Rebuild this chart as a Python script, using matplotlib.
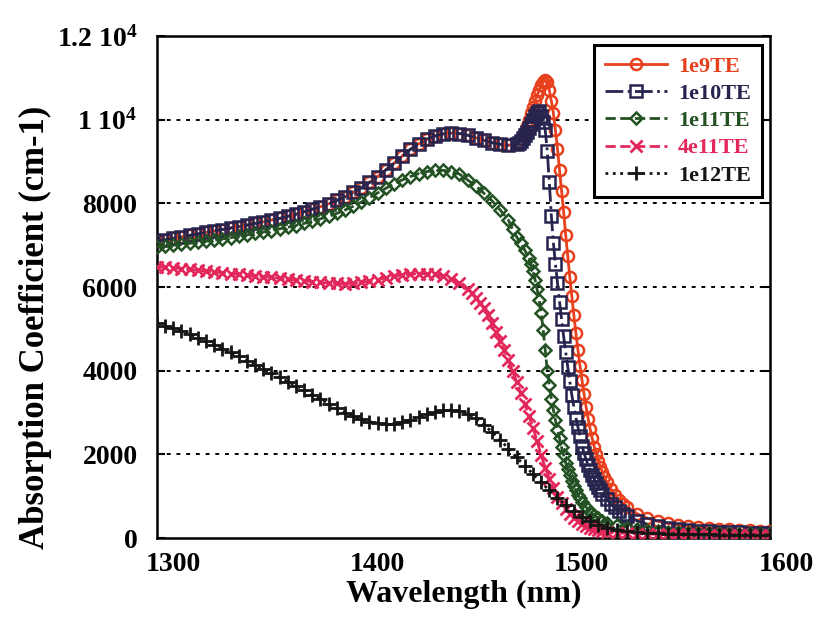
import matplotlib
matplotlib.use("Agg")
import matplotlib.pyplot as plt
import matplotlib.transforms as mtransforms
from matplotlib.ticker import FixedLocator, FixedFormatter

plt.rcParams['font.family'] = ['Liberation Serif', 'DejaVu Serif']
plt.rcParams['font.weight'] = 'bold'
plt.rcParams['mathtext.fontset'] = 'custom'
plt.rcParams['mathtext.rm'] = 'Liberation Serif:bold'
plt.rcParams['mathtext.it'] = 'Liberation Serif:bold:italic'
plt.rcParams['mathtext.bf'] = 'Liberation Serif:bold'

# ---------------- data ----------------
flat_x = [1300, 1304, 1308, 1312, 1316, 1320, 1324, 1328, 1332, 1336, 1340, 1344,
          1348, 1352, 1356, 1360, 1364, 1368, 1372, 1376, 1380, 1384, 1388, 1392,
          1396, 1400, 1404, 1408, 1412, 1416, 1420, 1424, 1428, 1432, 1436, 1440,
          1444, 1448, 1452, 1456, 1460, 1464, 1468, 1472, 1476]

common_top = [7100, 7130, 7165, 7200, 7235, 7270, 7305, 7340, 7375, 7410, 7445, 7480,
              7520, 7560, 7600, 7640, 7690, 7740, 7800, 7860, 7920, 7990, 8070, 8160,
              8260, 8370, 8500, 8640, 8800, 8960, 9130, 9290, 9420, 9530, 9610, 9660,
              9680, 9670, 9630, 9570, 9510, 9450, 9410, 9390, 9420]

# 1e9TE
x_1e9 = flat_x + [1477, 1478, 1479, 1480, 1481, 1482, 1483, 1484, 1485, 1486, 1487, 1488,
                  1489, 1490, 1491, 1492, 1493, 1494, 1495, 1496, 1497, 1498, 1499, 1500,
                  1501, 1502, 1503, 1504, 1505, 1506, 1507, 1508, 1509, 1510, 1511, 1512,
                  1513, 1514, 1515, 1516, 1517, 1518, 1519, 1520, 1522, 1524, 1526, 1528,
                  1530, 1535, 1540, 1545, 1550, 1555, 1560, 1565, 1570, 1575, 1580, 1585,
                  1590, 1595, 1600]
y_1e9 = common_top + [9470, 9540, 9630, 9740, 9860, 10000, 10150, 10300, 10450, 10580, 10700, 10820,
                      10910, 10950, 10900, 10700, 10450, 10150, 9750, 9300, 8800, 8300, 7800, 7250,
                      6750, 6250, 5780, 5330, 4900, 4500, 4120, 3770, 3440, 3130, 2850, 2600,
                      2380, 2180, 2000, 1840, 1700, 1570, 1450, 1350, 1180, 1040, 920, 820,
                      740, 580, 470, 400, 350, 310, 280, 255, 235, 220, 205, 195,
                      185, 175, 170]

# 1e10TE
x_1e10 = flat_x + [1477, 1478, 1479, 1480, 1481, 1482, 1483, 1484, 1485, 1486, 1487, 1488,
                   1489, 1490, 1491, 1492, 1493, 1494, 1495, 1496, 1497, 1498, 1499, 1500,
                   1501, 1502, 1503, 1504, 1505, 1506, 1507, 1508, 1509, 1510, 1511, 1512,
                   1513, 1514, 1515, 1516, 1517, 1518, 1520, 1522, 1524, 1526, 1528, 1530,
                   1535, 1540, 1545, 1550, 1555, 1560, 1565, 1570, 1575, 1580, 1585, 1590,
                   1595, 1600]
y_1e10 = common_top + [9450, 9500, 9560, 9630, 9710, 9800, 9900, 10000, 10100, 10170, 10200, 10100,
                       9950, 9750, 9250, 8500, 7700, 7050, 6550, 6100, 5650, 5230, 4820, 4450,
                       4100, 3750, 3420, 3140, 2880, 2650, 2440, 2200, 2030, 1880, 1740, 1620,
                       1510, 1410, 1310, 1220, 1140, 1060, 930, 820, 730, 650, 580, 520,
                       410, 330, 280, 240, 210, 190, 175, 160, 150, 140, 135, 130,
                       125, 120]

# 1e11TE
x_1e11 = flat_x[:-1] + [1474, 1476, 1478, 1480, 1482, 1483, 1484, 1485, 1486, 1487, 1488,
                        1489, 1490, 1491, 1492, 1493, 1494, 1495, 1496, 1497, 1498, 1499, 1500,
                        1501, 1502, 1503, 1504, 1505, 1506, 1507, 1508, 1510, 1512, 1514, 1516,
                        1518, 1520, 1525, 1530, 1535, 1540, 1545, 1550, 1555, 1560, 1565, 1570,
                        1575, 1580, 1585, 1590, 1595, 1600]
y_1e11 = [6960, 6980, 7000, 7020, 7045, 7070, 7095, 7120, 7150, 7180, 7210, 7245,
          7280, 7315, 7350, 7390, 7430, 7470, 7520, 7570, 7630, 7690, 7760, 7840,
          7930, 8030, 8140, 8250, 8360, 8460, 8560, 8640, 8710, 8760, 8790, 8790,
          8760, 8700, 8560, 8420, 8240, 8060, 7840, 7600] + \
         [7380, 7200, 7050, 6880, 6700, 6550, 6380, 6180, 5950, 5700, 5380,
          4980, 4500, 4000, 3650, 3330, 3060, 2810, 2590, 2380, 2170, 1980, 1800,
          1640, 1500, 1370, 1250, 1140, 1040, 950, 870, 740, 630, 540, 470,
          410, 360, 300, 250, 215, 190, 170, 150, 135, 125, 115, 110,
          105, 100, 95, 95, 90, 90]

# 4e11TE
x_4e11 = flat_x[:39] + [1454, 1456, 1458, 1460, 1462, 1464, 1466, 1468, 1470, 1472, 1474,
                        1476, 1478, 1480, 1482, 1484, 1486, 1488, 1490, 1492, 1494, 1496, 1498,
                        1500, 1502, 1504, 1506, 1508, 1510, 1512, 1514, 1516, 1518, 1520, 1525,
                        1530, 1535, 1540, 1545, 1550, 1555, 1560, 1565, 1570, 1575, 1580, 1585,
                        1590, 1595, 1600]
y_4e11 = [6480, 6470, 6455, 6440, 6420, 6400, 6380, 6360, 6340, 6320, 6300, 6280,
          6265, 6250, 6230, 6210, 6190, 6170, 6150, 6130, 6110, 6095, 6085, 6080,
          6090, 6110, 6140, 6180, 6220, 6260, 6290, 6310, 6320, 6320, 6300, 6260,
          6190, 6090, 5950] + \
         [5860, 5740, 5620, 5490, 5320, 5130, 4930, 4710, 4490, 4250, 4000,
          3740, 3470, 3200, 2920, 2640, 2320, 1980, 1680, 1420, 1190, 990, 830,
          700, 580, 470, 400, 340, 290, 250, 215, 185, 160, 140, 120,
          110, 100, 95, 90, 90, 85, 85, 80, 80, 80, 80, 80,
          80, 80, 80]

# 1e12TE
x_1e12 = flat_x + [1480, 1484, 1488, 1492, 1496, 1500, 1504, 1508, 1512, 1516, 1520, 1525,
                   1530, 1535, 1540, 1545, 1550, 1555, 1560, 1565, 1570, 1575, 1580, 1585,
                   1590, 1595, 1600]
y_1e12 = [5140, 5080, 5010, 4940, 4870, 4790, 4710, 4620, 4530, 4440, 4340, 4240,
          4140, 4040, 3940, 3840, 3740, 3640, 3540, 3430, 3320, 3210, 3100, 3000,
          2910, 2840, 2780, 2740, 2720, 2730, 2770, 2830, 2900, 2960, 3010, 3050,
          3060, 3040, 2970, 2860, 2710, 2530, 2340, 2140, 1930] + \
         [1730, 1530, 1330, 1140, 960, 790, 640, 510, 400, 310, 250, 200,
          165, 140, 120, 110, 100, 95, 90, 85, 85, 80, 80, 80,
          80, 80, 80]

series_labels = ["1e9TE", "1e10TE", "1e11TE", "4e11TE", "1e12TE"]
x_ticks = [1300, 1400, 1500, 1600]
y_ticks = [0, 2000, 4000, 6000, 8000, 10000, 12000]
y_tick_labels = ["0", "2000", "4000", "6000", "8000", "1 10$^4$", "1.2 10$^4$"]

# ---------------- figure ----------------
fig = plt.figure(figsize=(8.15, 6.18), dpi=100)
ax = fig.add_axes([0.1926, 0.1294, 0.7522, 0.8123])

styles = [
    dict(color='#e8401c', ls='-', marker='o', ms=8, mfc='none', mew=1.8, lw=2.0),
    dict(color='#26244e', ls='-.', marker='s', ms=8, mfc='none', mew=1.8, lw=2.0),
    dict(color='#245224', ls='--', marker='D', ms=6.5, mfc='none', mew=1.8, lw=2.0),
    dict(color='#e2285a', ls='--', marker='x', ms=9, mfc='none', mew=2.0, lw=2.0),
    dict(color='#151515', ls=':', marker='+', ms=10, mfc='none', mew=2.0, lw=2.0),
]
data = [(x_1e9, y_1e9), (x_1e10, y_1e10), (x_1e11, y_1e11), (x_4e11, y_4e11), (x_1e12, y_1e12)]

for (xs, ys), st, lab in zip(data, styles, series_labels):
    ax.plot(xs, ys, label=lab, zorder=3, **st)

ax.set_xlim(1300, 1600)
ax.set_ylim(0, 12000)

for y in y_ticks[1:-1]:
    ax.axhline(y, color='black', lw=1.4, ls=(0, (2, 3)), zorder=1)

ax.yaxis.set_major_locator(FixedLocator(y_ticks))
ax.yaxis.set_major_formatter(FixedFormatter(y_tick_labels))
ax.xaxis.set_major_locator(FixedLocator(x_ticks))
ax.tick_params(axis='y', which='both', direction='in', length=6, width=1.5,
               left=True, right=True, labelsize=20, pad=14)
ax.tick_params(axis='x', direction='in', length=0, labelsize=20, pad=10)
for lbl in ax.get_yticklabels():
    lbl.set_fontweight('bold')
offset = mtransforms.ScaledTranslation(0.16, 0, fig.dpi_scale_trans)
for lbl in ax.get_xticklabels():
    lbl.set_fontweight('bold')
    lbl.set_transform(lbl.get_transform() + offset)

for sp in ax.spines.values():
    sp.set_linewidth(1.8)

ax.set_xlabel("Wavelength (nm)", fontsize=23, fontweight='bold')
ax.xaxis.set_label_coords(0.5, -0.083)
ax.set_ylabel("Absorption Coefficient (cm-1)", fontsize=25, fontweight='bold')
ax.yaxis.set_label_coords(-0.172, 0.42)

leg = ax.legend(loc='upper right', bbox_to_anchor=(0.987, 0.982), borderaxespad=0,
                fancybox=False, frameon=True, edgecolor='black', framealpha=1,
                prop={'family': 'Liberation Serif', 'weight': 'bold', 'size': 16},
                handlelength=2.8, handletextpad=0.5, labelspacing=0.3, numpoints=1,
                borderpad=0.5)
leg.get_frame().set_linewidth(2.2)
leg.set_zorder(5)
for txt, st in zip(leg.get_texts(), styles):
    txt.set_color(st['color'])

fig.savefig("out.png", dpi=100)
